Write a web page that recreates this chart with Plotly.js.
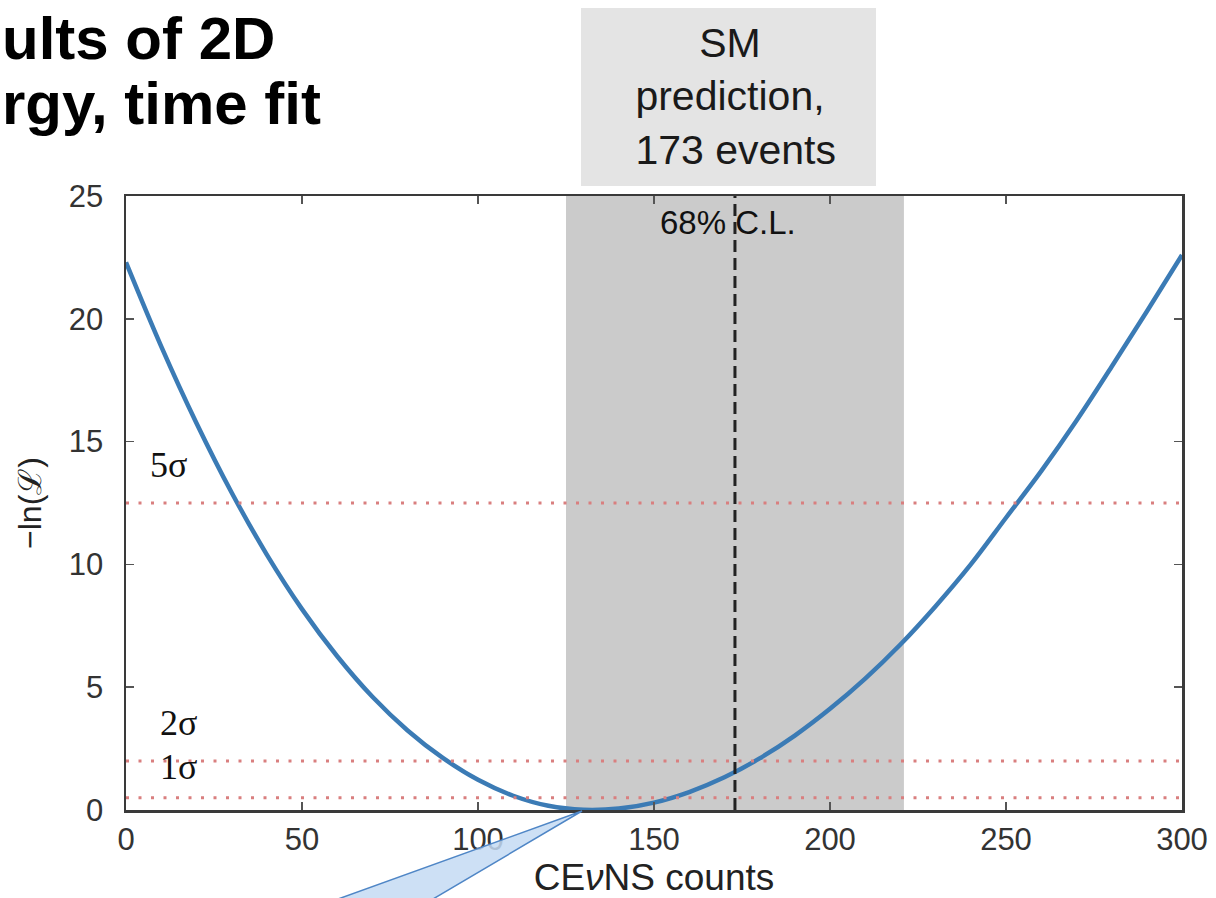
<!DOCTYPE html>
<html>
<head>
<meta charset="utf-8">
<script src="https://cdn.plot.ly/plotly-3.0.1.min.js"></script>
<style>
  html, body { margin: 0; padding: 0; background: #ffffff; }
  #chart { width: 1216px; height: 898px; }
</style>
</head>
<body>
<div id="chart"></div>
<script>
// ---- data ----
const counts = [0, 10, 20, 30, 40, 50, 60, 70, 80, 90, 100, 110, 120, 130, 140, 150,
                160, 170, 180, 190, 200, 210, 220, 230, 240, 250, 260, 270, 280, 290, 300];
const negLnL = [22.3, 18.88, 15.76, 12.93, 10.4, 8.18, 6.26, 4.61, 3.24, 2.12, 1.23, 0.58, 0.17, 0.01, 0.06, 0.3,
                0.73, 1.33, 2.1, 3.03, 4.12, 5.35, 6.74, 8.3, 10.0, 11.9, 13.8, 15.85, 18.05, 20.3, 22.6];
const sigmaLevels = [0.5, 2, 12.5];
const sigmaLabels = ['1σ', '2σ', '5σ'];
const smPrediction = 173;
const clBand = [125, 221];
const xTicks = [0, 50, 100, 150, 200, 250, 300];
const yTicks = [0, 5, 10, 15, 20, 25];

// ---- layout helpers (pixel -> paper) ----
const L = 126, R = 34, T = 196, B = 88, W = 1216, H = 898;
const pw = W - L - R, ph = H - T - B;
const px2x = p => (p - L) / pw;
const py2y = p => (H - B - p) / ph;

const FONT = 'Liberation Sans, Arial, Helvetica, sans-serif';

const traces = [{
  x: counts,
  y: negLnL,
  type: 'scatter',
  mode: 'lines',
  line: { color: '#3b7bb5', width: 4.5, shape: 'spline', smoothing: 1 },
  hoverinfo: 'x+y',
  showlegend: false
}];

const shapes = [];
// 68% C.L. band
shapes.push({ type: 'rect', xref: 'x', yref: 'paper', x0: clBand[0], x1: clBand[1], y0: 0, y1: 1,
  fillcolor: '#cbcbcb', line: { width: 0 }, layer: 'below' });
// sigma lines
sigmaLevels.forEach(v => shapes.push({ type: 'line', xref: 'paper', yref: 'y', x0: 0, x1: 1, y0: v, y1: v,
  line: { color: '#d97f7f', width: 3, dash: '3px,9.5px' }, layer: 'above' }));
// SM prediction dashed line
shapes.push({ type: 'line', xref: 'x', yref: 'paper', x0: smPrediction, x1: smPrediction, y0: 0, y1: 1,
  line: { color: '#222222', width: 3, dash: '12px,6px' }, layer: 'above' });
// SM prediction box (above plot)
shapes.push({ type: 'rect', xref: 'paper', yref: 'paper', x0: px2x(581), x1: px2x(876), y0: py2y(186), y1: py2y(8),
  fillcolor: '#e4e4e4', line: { width: 0 }, layer: 'above' });
// callout triangle pointing to the minimum
const apx = px2x(582), apy = py2y(811);
shapes.push({ type: 'path', xref: 'paper', yref: 'paper',
  path: `M ${apx},${apy} L ${px2x(302)},${py2y(912)} L ${px2x(411)},${py2y(912)} Z`,
  fillcolor: 'rgba(196,218,243,0.85)', line: { color: '#4f86c6', width: 1.5 }, layer: 'above' });

const annotations = [];
// slide title fragment
annotations.push({ xref: 'paper', yref: 'paper', x: px2x(0), y: py2y(38), xanchor: 'left', yanchor: 'middle',
  text: '<b>ults of 2D</b>', showarrow: false, font: { family: FONT, size: 60, color: '#000' } });
annotations.push({ xref: 'paper', yref: 'paper', x: px2x(0), y: py2y(104), xanchor: 'left', yanchor: 'middle',
  text: '<b>rgy, time fit</b>', showarrow: false, font: { family: FONT, size: 60, color: '#000' } });
// SM prediction label
annotations.push({ xref: 'paper', yref: 'paper', x: px2x(730), y: py2y(97), xanchor: 'center', yanchor: 'middle',
  text: 'SM<br>prediction,<br> 173 events', showarrow: false, align: 'center',
  font: { family: FONT, size: 41, color: '#1a1a1a' } });
// 68% C.L.
annotations.push({ xref: 'paper', yref: 'paper', x: px2x(728), y: py2y(222),
  xanchor: 'center', yanchor: 'middle', text: '68% C.L.', showarrow: false,
  font: { family: FONT, size: 33, color: '#111' } });
// sigma labels
sigmaLevels.forEach((v, i) => annotations.push({ xref: 'paper', yref: 'y', x: px2x(v > 10 ? 168 : 178), y: v,
  yshift: v < 1 ? 31 : 38, xanchor: 'center', yanchor: 'middle', text: sigmaLabels[i], showarrow: false,
  font: { family: 'Liberation Serif, Times New Roman, serif', size: 36, color: '#111' } }));

const axisCommon = {
  showgrid: false, zeroline: false, showline: true, linecolor: '#3a3a3a', linewidth: 2.5,
  mirror: 'ticks', ticks: 'inside', ticklen: 8, tickwidth: 1.5, tickcolor: '#555',
  tickfont: { family: FONT, size: 31, color: '#333' }
};

const layout = {
  width: W, height: H,
  margin: { l: L, r: R, t: T, b: B, pad: 0 },
  paper_bgcolor: '#ffffff', plot_bgcolor: '#ffffff',
  showlegend: false,
  xaxis: Object.assign({}, axisCommon, {
    range: [0, 300], tickmode: 'array', tickvals: xTicks, ticktext: xTicks.map(String),
    ticklabelstandoff: 0,
    title: { text: 'CE<i>ν</i>NS counts', font: { family: FONT, size: 37, color: '#222' }, standoff: 2 }
  }),
  yaxis: Object.assign({}, axisCommon, {
    range: [0, 25], tickmode: 'array', tickvals: yTicks, ticktext: yTicks.map(String),
    ticklabelstandoff: 14,
    title: { text: '−ln(ℒ)', font: { family: FONT, size: 32, color: '#222' }, standoff: 18 }
  }),
  shapes: shapes,
  annotations: annotations
};

Plotly.newPlot('chart', traces, layout, { displayModeBar: false, staticPlot: true });
</script>
</body>
</html>
